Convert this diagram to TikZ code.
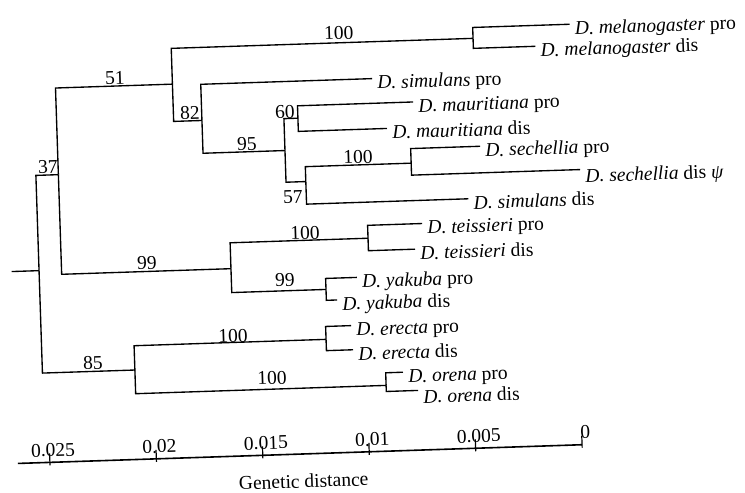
\documentclass[tikz,border=0pt]{standalone}
\usepackage{fontspec}
\setmainfont{Liberation Serif}
\begin{document}
\begin{tikzpicture}[x=1pt,y=-1pt,
  every node/.style={font=\fontsize{19.5}{22}\selectfont},
  br/.style={line width=1.35pt},
  leaf/.style={anchor=west, inner xsep=5pt, inner ysep=0pt, text height=21pt, text depth=-7pt},
  lowleaf/.style={leaf, text height=26pt, text depth=-12pt},
  boot/.style={inner sep=0pt},
  axisline/.style={line width=1.6pt},
  tick/.style={line width=1.2pt},
  ticklab/.style={inner sep=0pt}
]
\useasboundingbox (0,0) rectangle (745,493);
\begin{scope}[rotate around={1.9:(300,250)}, transform shape]
% internal nodes
\coordinate (s) at (11,262);
\coordinate (r) at (38.5,262);
\coordinate (n37) at (61,166.7);
\coordinate (nA) at (178,80);
\coordinate (nMel) at (480,44.2);
\coordinate (n82) at (206.3,117.3);
\coordinate (n95) at (288.3,150.1);
\coordinate (n60) at (302.3,118.2);
\coordinate (n57) at (308.1,181.8);
\coordinate (nSech) at (414,166.9);
\coordinate (n99) at (230.4,266.4);
\coordinate (nTeis) at (368.4,240.5);
\coordinate (nYak) at (324.7,290.3);
\coordinate (n85) at (131,364.5);
\coordinate (nEre) at (323.1,340.2);
\coordinate (nOre) at (381.6,388.2);
% leaves
\node[leaf] (melp) at (577,33.3) {\textit{D. melanogaster} pro};
\node[leaf] (meld) at (542,54.2) {\textit{D. melanogaster} dis};
\node[leaf] (simp) at (377.7,81.1) {\textit{D. simulans} pro};
\node[leaf] (maup) at (418,105.8) {\textit{D. mauritiana} pro};
\node[leaf] (maud) at (391,131.4) {\textit{D. mauritiana} dis};
\node[leaf] (sechp) at (483.4,152.3) {\textit{D. sechellia} pro};
\node[lowleaf] (sechd) at (582.6,178.9) {\textit{D. sechellia} dis \textit{ψ}};
\node[leaf] (simd) at (470,204.4) {\textit{D. simulans} dis};
\node[leaf] (teip) at (423,227.6) {\textit{D. teissieri} pro};
\node[leaf] (teid) at (415,253) {\textit{D. teissieri} dis};
\node[leaf] (yakp) at (355.9,279.3) {\textit{D. yakuba} pro};
\node[leaf] (yakd) at (335.4,301.2) {\textit{D. yakuba} dis};
\node[leaf] (erep) at (348.5,327.3) {\textit{D. erecta} pro};
\node[leaf] (ered) at (349.7,351.5) {\textit{D. erecta} dis};
\node[leaf] (orep) at (398.9,375.6) {\textit{D. orena} pro};
\node[lowleaf] (ored) at (413.4,394.3) {\textit{D. orena} dis};
% branches
\draw[br] (s) -- (r);
\draw[br] (r) |- (n37);
\draw[br] (r) |- (n85);
\draw[br] (n37) |- (nA);
\draw[br] (n37) |- (n99);
\draw[br] (nA) |- (nMel);
\draw[br] (nA) |- (n82);
\draw[br] (nMel) |- (melp);
\draw[br] (nMel) |- (meld);
\draw[br] (n82) |- (simp);
\draw[br] (n82) |- (n95);
\draw[br] (n95) |- (n60);
\draw[br] (n95) |- (n57);
\draw[br] (n60) |- (maup);
\draw[br] (n60) |- (maud);
\draw[br] (n57) |- (nSech);
\draw[br] (n57) |- (simd);
\draw[br] (nSech) |- (sechp);
\draw[br] (nSech) |- (sechd);
\draw[br] (n99) |- (nTeis);
\draw[br] (n99) |- (nYak);
\draw[br] (nTeis) |- (teip);
\draw[br] (nTeis) |- (teid);
\draw[br] (nYak) |- (yakp);
\draw[br] (nYak) |- (yakd);
\draw[br] (n85) |- (nEre);
\draw[br] (n85) |- (nOre);
\draw[br] (nEre) |- (erep);
\draw[br] (nEre) |- (ered);
\draw[br] (nOre) |- (orep);
\draw[br] (nOre) |- (ored);
% bootstrap values
\node[boot] (b1) at (346,34.3) {100};
\node[boot] (b2) at (120.7,71.9) {51};
\node[boot] (b3) at (50.7,158.7) {37};
\node[boot] (b4) at (194.5,109.4) {82};
\node[boot] (b5) at (250.5,142.3) {95};
\node[boot] (b6) at (289.5,111.6) {60};
\node[boot] (b7) at (294.7,196.8) {57};
\node[boot] (b8) at (361.1,158.9) {100};
\node[boot] (b9) at (305.6,233.2) {100};
\node[boot] (b10) at (146.6,258) {99};
\node[boot] (b11) at (284,279.5) {99};
\node[boot] (b12) at (230.2,333.8) {100};
\node[boot] (b13) at (89.3,356.2) {85};
\node[boot] (b14) at (267.8,377.1) {100};
% scale
\coordinate (a0) at (11,454);
\coordinate (a1) at (575.6,454);
\draw[axisline] (a0) -- (a1);
\foreach \i/\x/\lab in {0/43/0.025, 1/149.5/0.02, 2/256/0.015, 3/362.5/0.01, 4/469/0.005, 5/575.5/0}{
  \coordinate (t\i) at (\x,454);
  \draw[tick] ([yshift=9pt]t\i) -- ([yshift=-3pt]t\i);
  \node[ticklab] (tl\i) at ([xshift=3.5pt,yshift=12.2pt]t\i) {\lab};
}
\node[inner sep=0pt] (gd) at (296,481) {Genetic distance};
\end{scope}
\end{tikzpicture}
\end{document}
